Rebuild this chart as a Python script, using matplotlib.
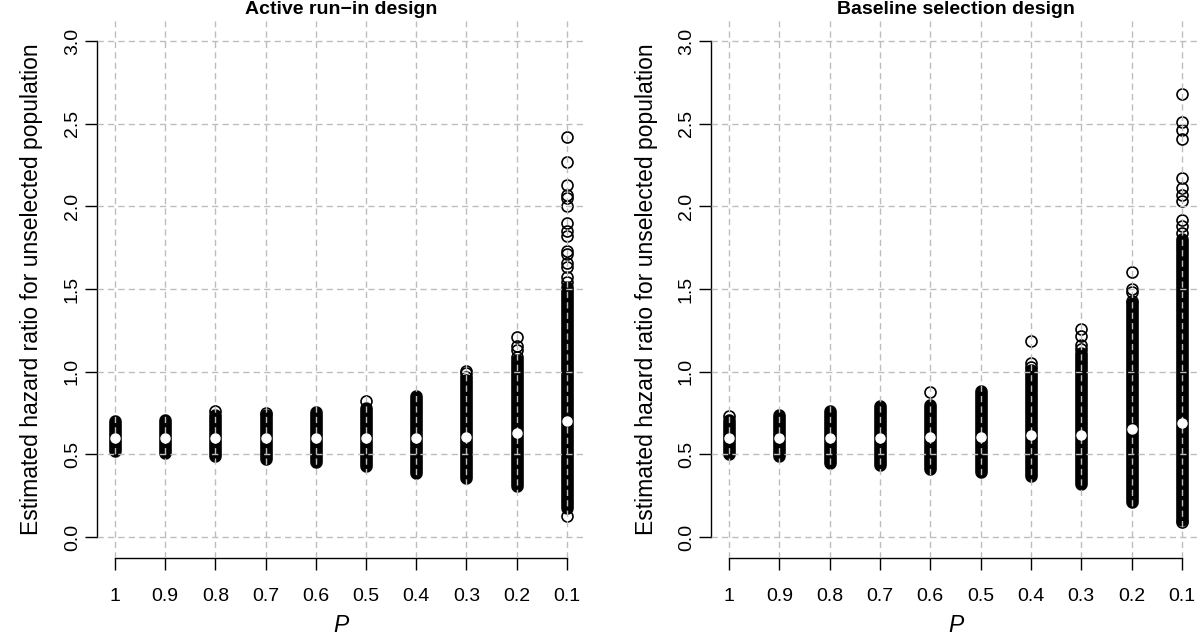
import matplotlib
matplotlib.use('Agg')
import matplotlib.pyplot as plt

plt.rcParams['font.family'] = ['Liberation Sans', 'DejaVu Sans']

# P values shown left to right
p_labels = ['1', '0.9', '0.8', '0.7', '0.6', '0.5', '0.4', '0.3', '0.2', '0.1']
y_ticks = [0.0, 0.5, 1.0, 1.5, 2.0, 2.5, 3.0]

# Active run-in design: median, dense band (low/high) and isolated estimates
active_median = [0.60, 0.60, 0.60, 0.60, 0.60, 0.60, 0.60, 0.607, 0.63, 0.70]
active_low = [0.52, 0.51, 0.49, 0.47, 0.455, 0.43, 0.385, 0.357, 0.31, 0.175]
active_high = [0.70, 0.71, 0.74, 0.74, 0.755, 0.78, 0.85, 0.95, 1.07, 1.51]
active_out = [
    [],
    [],
    [0.76],
    [0.75],
    [],
    [0.82],
    [],
    [0.97, 0.99, 1.006],
    [1.09, 1.13, 1.155, 1.21],
    [0.13, 1.545, 1.575, 1.635, 1.66, 1.71, 1.73, 1.82, 1.85, 1.90,
     2.00, 2.05, 2.07, 2.13, 2.27, 2.42],
]

# Baseline selection design
base_median = [0.60, 0.60, 0.60, 0.60, 0.603, 0.605, 0.617, 0.62, 0.655, 0.69]
base_low = [0.505, 0.49, 0.445, 0.435, 0.41, 0.395, 0.37, 0.32, 0.21, 0.10]
base_high = [0.708, 0.74, 0.76, 0.795, 0.80, 0.885, 1.01, 1.11, 1.415, 1.80]
base_out = [
    [0.734],
    [],
    [],
    [],
    [0.875],
    [],
    [1.03, 1.055, 1.185],
    [1.14, 1.16, 1.216, 1.256],
    [1.43, 1.485, 1.50, 1.605],
    [0.09, 1.84, 1.88, 1.92, 2.03, 2.07, 2.11, 2.17, 2.405, 2.46, 2.51, 2.68],
]

W, H = 1200, 644
fig = plt.figure(figsize=(W / 100, H / 100), dpi=100)

grid_col = '#bdbdbd'
ms = 7.9
mew = 1.2


def panel(left_px, width_px, title, med, lo, hi, out):
    ax = fig.add_axes([left_px / W, 1 - 558 / H, width_px / W, (558 - 21.2) / H])
    xs = list(range(1, len(p_labels) + 1))

    for x, a, b, o in zip(xs, lo, hi, out):
        # dense stack of open circles -> solid black band
        ax.plot([x, x], [a, b], color='black', lw=ms + mew,
                solid_capstyle='round', zorder=2)
        if o:
            ax.plot([x] * len(o), o, 'o', ms=ms, mew=mew, mfc='none',
                    mec='black', zorder=2)

    ax.plot(xs, med, 'o', ms=6.5, mfc='white', mec='white', ls='none', zorder=3)

    ax.set_xlim(0.642, 10.36)
    ax.set_ylim(-0.127, 3.12)
    ax.set_xticks(xs)
    ax.set_xticklabels(p_labels, fontsize=14)
    ax.set_yticks(y_ticks)
    ax.set_yticklabels(['%.1f' % v for v in y_ticks], fontsize=14,
                       rotation=90, va='center')
    ax.tick_params(axis='x', length=8.6, width=1, pad=13)
    ax.tick_params(axis='y', length=8.6, width=1, pad=3)

    ax.grid(True, color=grid_col, linestyle=(0, (4.5, 3)), linewidth=1.0)
    ax.set_axisbelow(False)

    for s in ['top', 'right']:
        ax.spines[s].set_visible(False)
    ax.spines['left'].set_bounds(0, 3)
    ax.spines['bottom'].set_bounds(1, 10)
    ax.spines['left'].set_linewidth(1)
    ax.spines['bottom'].set_linewidth(1)

    cx = (left_px + width_px / 2) / W
    fig.text(cx, 1 - 10 / H, title, ha='center', va='center',
             fontsize=14, fontweight='bold')
    fig.text(cx, 1 - 625 / H, 'P', ha='center', va='center',
             fontsize=16.5, style='italic')
    fig.text((left_px - 65) / W, 1 - 289.5 / H,
             'Estimated hazard ratio for unselected population',
             ha='center', va='center', rotation=90, fontsize=16.5)
    return ax


panel(97, 488, 'Active run\u2212in design',
      active_median, active_low, active_high, active_out)
panel(711, 489, 'Baseline selection design',
      base_median, base_low, base_high, base_out)

fig.savefig('out.png', dpi=100)
